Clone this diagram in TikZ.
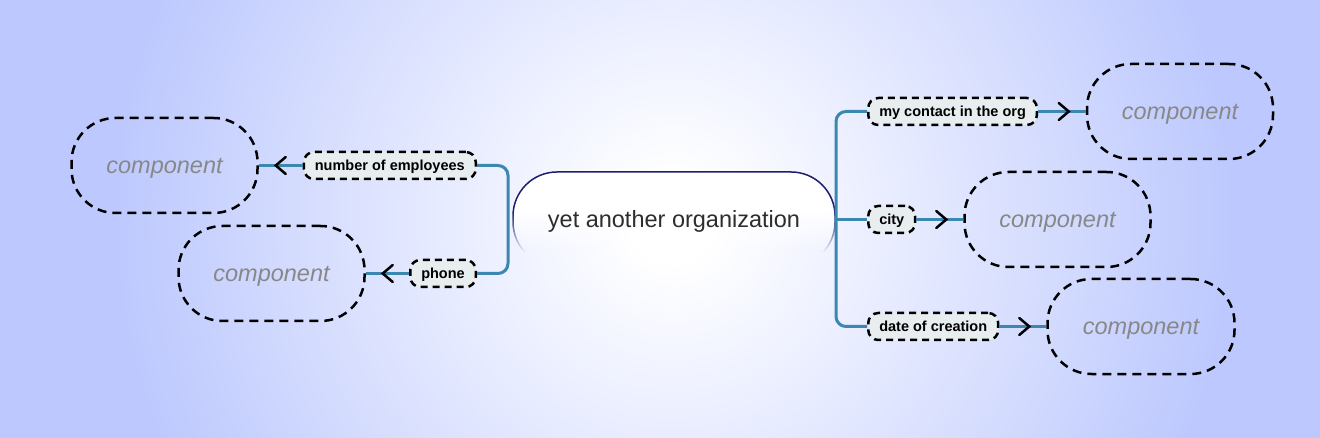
\documentclass[tikz,border=0pt]{standalone}
\usepackage{fontspec}
\setmainfont{Liberation Sans}
\usetikzlibrary{decorations.markings,fadings}
\definecolor{bgblue}{RGB}{188,200,254}
\definecolor{conncol}{RGB}{60,135,176}
\definecolor{labfill}{RGB}{232,238,240}
\definecolor{navyline}{RGB}{30,30,110}
\definecolor{comptext}{RGB}{136,136,136}
\definecolor{titletext}{RGB}{45,45,45}
\pgfdeclareradialshading{bgshade}{\pgfpoint{0bp}{0bp}}{color(0bp)=(white); color(1.5bp)=(white); color(20bp)=(bgblue); color(50bp)=(bgblue)}
\begin{tikzfadingfrompicture}[name=topfade]
  \fill[transparent!0] (-50bp,50bp) rectangle (50bp,4bp);
  \shade[top color=transparent!0, bottom color=transparent!100] (-50bp,4bp) rectangle (50bp,-17.5bp);
  \fill[transparent!100] (-50bp,-17.5bp) rectangle (50bp,-50bp);
\end{tikzfadingfrompicture}
\begin{document}
\begin{tikzpicture}[x=1pt,y=-1pt,
  comp/.style={draw=black, line width=2.5pt, dash pattern=on 9pt off 6pt, rounded corners=44pt,
    minimum width=186pt, minimum height=95pt, inner sep=0pt, text depth=0pt,
    font=\fontsize{23.5}{28}\selectfont\itshape, text=comptext},
  lab/.style={draw=black, fill=labfill, line width=2.5pt, dash pattern=on 7pt off 5pt, rounded corners=10pt,
    minimum height=27pt, inner xsep=11pt, inner ysep=0pt, text depth=0pt,
    font=\fontsize{14.5}{17}\selectfont\bfseries, text=black},
  conn/.style={draw=conncol, line width=3pt},
  chev/.style={postaction={decorate}, decoration={markings,
    mark=at position -17pt with {\draw[black, line width=2.5pt, solid, line cap=round, line join=miter] (-10pt,-8.5pt) -- (0pt,0pt) -- (-10pt,8.5pt);}}},
  title/.style={font=\fontsize{23.5}{28}\selectfont, text=titletext, inner sep=0pt, text depth=0pt}
]
\useasboundingbox (0,0) rectangle (1320,438);
\begin{scope}
  \clip (0,0) rectangle (1320,438);
  \shade[shading=bgshade] (673,219) circle (708);
\end{scope}

% central node
\path[fill=white, draw=navyline, line width=1.5pt, rounded corners=44pt, path fading=topfade] (513,172) rectangle (835,266);
\node[title] (org) at (674,219) {yet another organization};

% labels
\node[lab, anchor=east] (noe) at (477,165.5) {number of employees};
\node[lab, anchor=east] (phone) at (477,273.5) {phone};
\node[lab, anchor=west] (contact) at (867,111.5) {my contact in the org};
\node[lab, anchor=west] (city) at (867,219.5) {city};
\node[lab, anchor=west] (date) at (867,326.5) {date of creation};

% components
\node[comp] (lc1) at (164.5,165.5) {component};
\node[comp] (lc2) at (271.5,273.5) {component};
\node[comp] (rc1) at (1180,111.5) {component};
\node[comp] (rc2) at (1057.5,219.5) {component};
\node[comp, minimum width=187pt] (rc3) at (1141,326.5) {component};

% trunks
\draw[conn, rounded corners=10pt] (noe.east) -- ++(31,0) |- (phone.east);
\draw[conn, rounded corners=10pt] (contact.west) -- ++(-31,0) |- (date.west);
\draw[conn] (city.west) -- ++(-31,0);

% label to component
\draw[conn, chev] (noe.west) -- (lc1.east);
\draw[conn, chev] (phone.west) -- (lc2.east);
\draw[conn, chev] (contact.east) -- (rc1.west);
\draw[conn, chev] (city.east) -- (rc2.west);
\draw[conn, chev] (date.east) -- (rc3.west);
\end{tikzpicture}
\end{document}
